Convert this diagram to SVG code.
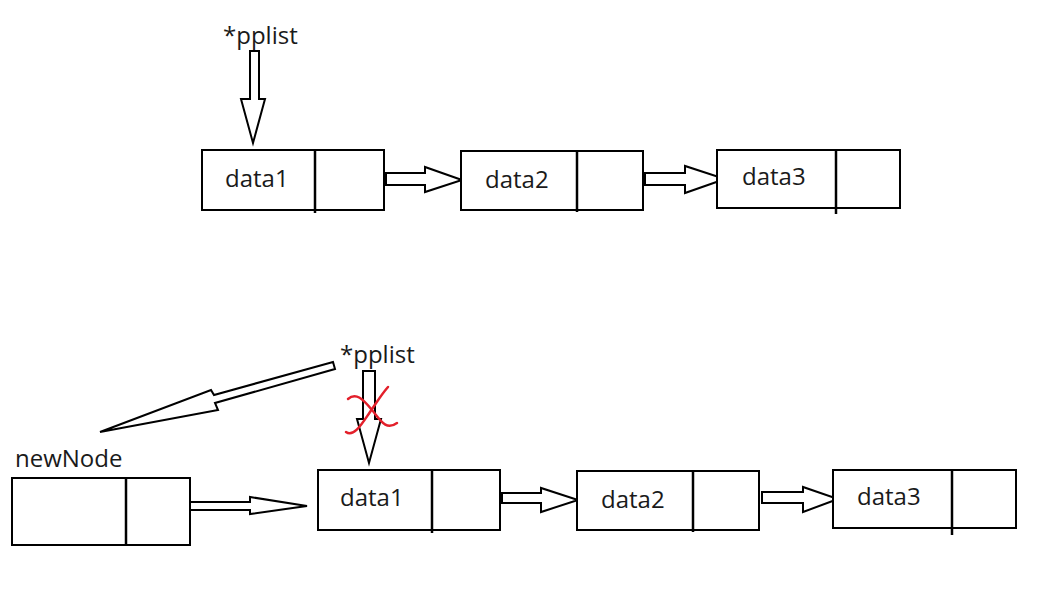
<svg xmlns="http://www.w3.org/2000/svg" width="1049" height="610" viewBox="0 0 1049 610">
<style>
.box{fill:#fff;stroke:#000;stroke-width:2}
.div{stroke:#000;stroke-width:2.5;fill:none}
.arr{fill:#fff;stroke:#000;stroke-width:2;stroke-linejoin:miter}
.t{font-family:"Open Sans","Noto Sans",sans-serif;font-size:24px;fill:#1a1a1a}
.x{fill:none;stroke:#e3202b;stroke-width:2.5;stroke-linecap:round}
</style>
<rect width="1049" height="610" fill="#fff"/>
<g id="connectors">
<polygon class="arr" points="250,51 259,51 259,99 265,99 253,143 241,99 250,99"/>
<polygon class="arr" points="386,173 425,173 425,167 462,180 425,192 425,185 386,185"/>
<polygon class="arr" points="645,173 685,173 685,166 725,179 685,193 685,185 645,185"/>
<polygon class="arr" points="190,502 250,502 250,497 307,506 250,514 250,510 190,510"/>
<polygon class="arr" points="502,493 541,493 541,488 578,500 541,512 541,503 502,503"/>
<polygon class="arr" points="762,492 803,492 803,487 838,499 803,512 803,503 762,503"/>
<polygon class="arr" points="363,371 375,371 375,419 381,419 369,463 357,419 363,419"/>
<polygon class="arr" points="333,362 335,369 215,403 218,410 100,432 211,390 214,395"/>
</g>
<g id="pplist-top"><text class="t" x="223" y="44">*pplist</text></g>
<g id="node1-top">
<rect class="box" x="202" y="150" width="182" height="60"/>
<line class="div" x1="315" y1="150" x2="315" y2="213"/>
<text class="t" x="225" y="187">data1</text>
</g>
<g id="node2-top">
<rect class="box" x="461" y="151" width="182" height="59"/>
<line class="div" x1="577" y1="151" x2="577" y2="212"/>
<text class="t" x="485" y="188">data2</text>
</g>
<g id="node3-top">
<rect class="box" x="717" y="150" width="183" height="58"/>
<line class="div" x1="836" y1="150" x2="836" y2="214"/>
<text class="t" x="742" y="185">data3</text>
</g>
<g id="pplist-bottom">
<text class="t" x="340" y="363">*pplist</text>
<path class="x" d="M348,399 C356,392 363,399 372,410 S386,431 397,423"/>
<path class="x" d="M388,387 C381,395 377,402 370,412 S354,438 346,432"/>
</g>
<g id="newNode">
<text class="t" x="15" y="467">newNode</text>
<rect class="box" x="12" y="478" width="178" height="67"/>
<line class="div" x1="126" y1="478" x2="126" y2="545"/>
</g>
<g id="node1-bottom">
<rect class="box" x="318" y="470" width="182" height="60"/>
<line class="div" x1="432" y1="470" x2="432" y2="533"/>
<text class="t" x="340" y="506">data1</text>
</g>
<g id="node2-bottom">
<rect class="box" x="577" y="471" width="182" height="59"/>
<line class="div" x1="693" y1="471" x2="693" y2="532"/>
<text class="t" x="601" y="508">data2</text>
</g>
<g id="node3-bottom">
<rect class="box" x="833" y="470" width="183" height="58"/>
<line class="div" x1="952" y1="470" x2="952" y2="535"/>
<text class="t" x="857" y="505">data3</text>
</g>
</svg>
